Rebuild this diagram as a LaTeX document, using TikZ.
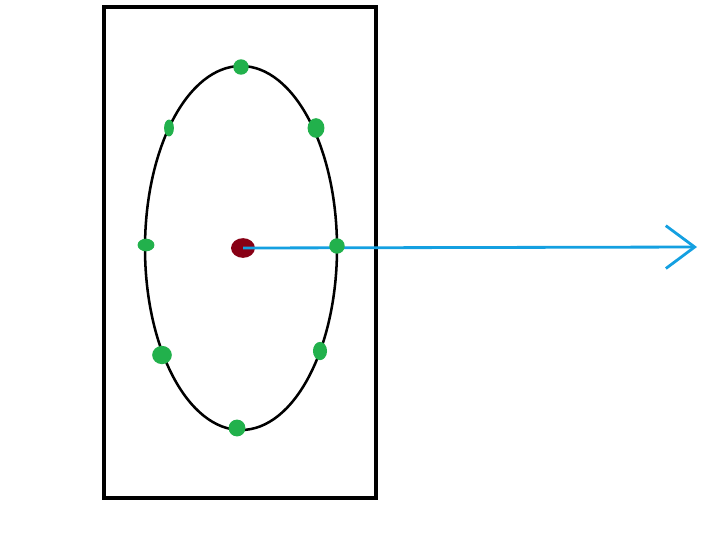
\documentclass[tikz,border=0pt]{standalone}
\usetikzlibrary{arrows.meta,shapes.geometric}
\definecolor{dotgreen}{RGB}{34,177,76}
\definecolor{dotred}{RGB}{136,0,21}
\definecolor{arrowblue}{RGB}{20,160,225}
\tikzset{pt/.style={ellipse,fill=dotgreen,inner sep=0pt,minimum width=16pt,minimum height=16pt},
         ctr/.style={ellipse,fill=dotred,inner sep=0pt,minimum width=17pt,minimum height=14pt},
         ray/.style={draw=arrowblue,line width=2pt,-{Straight Barb[length=0.72cm,width=1.07cm,line width=2pt]}}}

\begin{document}
\begin{tikzpicture}
        [x=0.025cm,y=-0.025cm]
        % whole picture in pixel units, y pointing down
        \useasboundingbox (0,0) rectangle (720,548);

        \draw[line width=2.2pt] (104,7) rectangle (376,498);
        \draw[line width=1.8pt] (241,248) ellipse [x radius=96,y radius=182];

        \node[ctr] (c) at (243,248) {};
        \coordinate (tip) at (697,247);
        \draw[ray] (c.center) -- (tip);

        \node[pt,minimum width=11pt,minimum height=11pt] (p1) at (241,67) {};
        \node[pt,minimum width=7pt,minimum height=12pt] (p2) at (169,128) {};
        \node[pt,minimum width=12pt,minimum height=14pt] (p3) at (316,128) {};
        \node[pt,minimum width=12pt,minimum height=9pt] (p4) at (146,245) {};
        \node[pt,minimum width=11pt,minimum height=11pt] (p5) at (337,246) {};
        \node[pt,minimum width=14pt,minimum height=13pt] (p6) at (162,355) {};
        \node[pt,minimum width=10pt,minimum height=13pt] (p7) at (320,351) {};
        \node[pt,minimum width=12pt,minimum height=12pt] (p8) at (237,428) {};

\end{tikzpicture}
\end{document}
